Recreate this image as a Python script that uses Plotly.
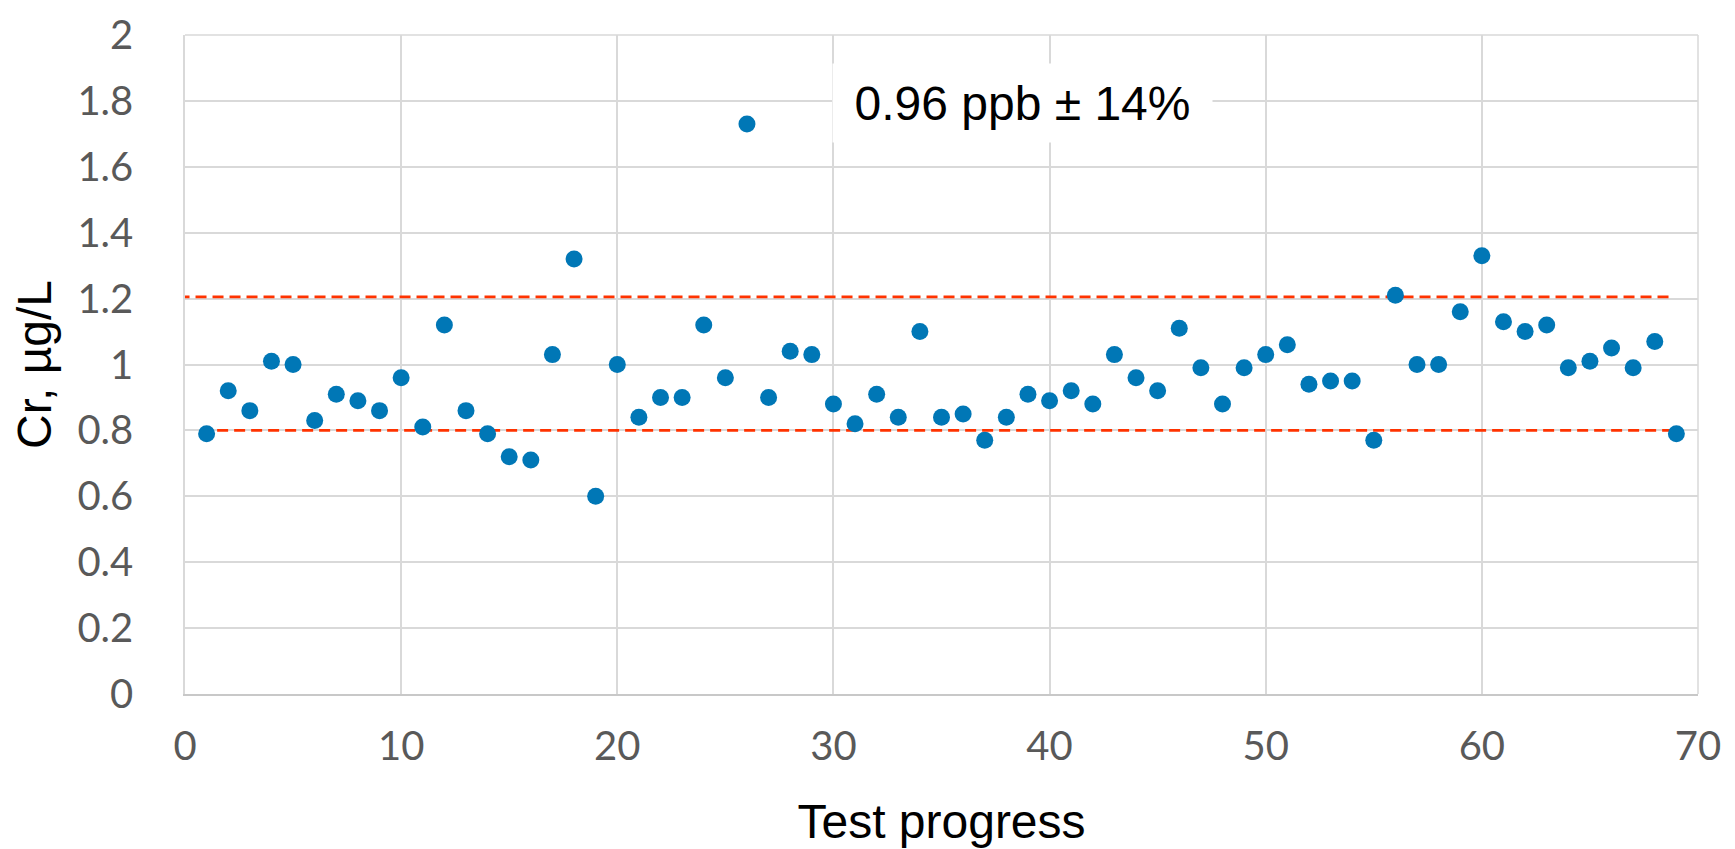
import plotly.graph_objects as go

# Data
test_index = list(range(1, 70))
cr_values = [
    0.79, 0.92, 0.86, 1.01, 1.00, 0.83, 0.91, 0.89, 0.86, 0.96,
    0.81, 1.12, 0.86, 0.79, 0.72, 0.71, 1.03, 1.32, 0.60, 1.00,
    0.84, 0.90, 0.90, 1.12, 0.96, 1.73, 0.90, 1.04, 1.03, 0.88,
    0.82, 0.91, 0.84, 1.10, 0.84, 0.85, 0.77, 0.84, 0.91, 0.89,
    0.92, 0.88, 1.03, 0.96, 0.92, 1.11, 0.99, 0.88, 0.99, 1.03,
    1.06, 0.94, 0.95, 0.95, 0.77, 1.21, 1.00, 1.00, 1.16, 1.33,
    1.13, 1.10, 1.12, 0.99, 1.01, 1.05, 0.99, 1.07, 0.79,
]
upper_limit_x = [-0.3, 68.9]
upper_limit_y = [1.205, 1.205]
lower_limit_x = [0.7, 69.3]
lower_limit_y = [0.80, 0.80]
x_ticks = [0, 10, 20, 30, 40, 50, 60, 70]
y_ticks = [0, 0.2, 0.4, 0.6, 0.8, 1.0, 1.2, 1.4, 1.6, 1.8, 2.0]
y_tick_labels = ["0", "0.2", "0.4", "0.6", "0.8", "1", "1.2", "1.4", "1.6", "1.8", "2"]
annotation_text = "0.96 ppb ± 14%"
annotation_pos = (38.75, 1.795)

RED = "#FF3300"
BLUE = "#0077B6"
GRID = "#D9D9D9"

fig = go.Figure()
for lx, ly in ((upper_limit_x, upper_limit_y), (lower_limit_x, lower_limit_y)):
    fig.add_trace(go.Scatter(x=lx, y=ly, mode="lines",
                             line=dict(color=RED, width=2.8, dash="11px,6px"),
                             hoverinfo="skip", showlegend=False, cliponaxis=False))
fig.add_trace(go.Scatter(x=test_index, y=cr_values, mode="markers",
                         marker=dict(color=BLUE, size=17, line=dict(width=0)),
                         showlegend=False, cliponaxis=False))

fig.add_annotation(x=annotation_pos[0], y=annotation_pos[1], xref="x", yref="y",
                   text=annotation_text, showarrow=False,
                   font=dict(family="Liberation Sans, Arial", size=48, color="black"),
                   bgcolor="white", borderpad=0, width=379, height=78,
                   align="center", valign="middle")

tick_font = dict(family="Lato, 'Noto Sans', sans-serif", size=40, color="#595959")
title_font = dict(family="Liberation Sans, Arial", size=48, color="black")

fig.update_layout(
    width=1735, height=849,
    paper_bgcolor="white", plot_bgcolor="white",
    margin=dict(l=177, r=45, t=27, b=163, autoexpand=False),
    showlegend=False,
    xaxis=dict(range=[0, 70], tickvals=x_ticks, showgrid=True,
               gridcolor=GRID, gridwidth=1.5, zeroline=False,
               showline=True, linecolor="#C8C8C8", linewidth=2,
               ticks="", tickfont=tick_font, ticklabelstandoff=16,
               ticklabeloverflow="allow",
               title=dict(text="Test progress", font=title_font, standoff=36)),
    yaxis=dict(range=[0, 2], tickvals=y_ticks, ticktext=y_tick_labels,
               showgrid=True, gridcolor=GRID, gridwidth=1.5,
               zeroline=False, showline=True, linecolor=GRID, linewidth=1.5,
               mirror=False, ticks="", tickfont=tick_font, ticklabelstandoff=42,
               ticklabeloverflow="allow",
               title=dict(text="Cr, µg/L", font=title_font, standoff=20)),
)
# right border and top gridline of the plot frame
fig.add_shape(type="line", xref="paper", yref="paper", x0=1, x1=1, y0=0, y1=1,
              line=dict(color=GRID, width=1.5), layer="below")
fig.add_shape(type="line", xref="paper", yref="paper", x0=0, x1=1, y0=1, y1=1,
              line=dict(color=GRID, width=1.5), layer="below")

fig.write_html("out.html")
